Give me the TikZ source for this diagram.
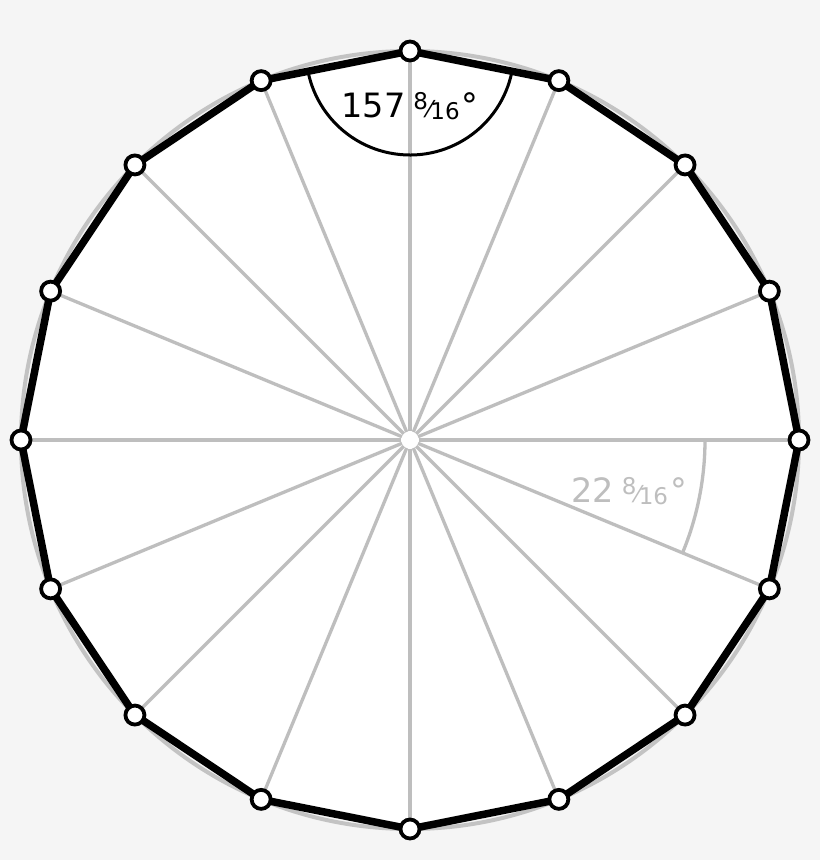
\documentclass[tikz,border=0pt]{standalone}
\usepackage{fontspec}
\setmainfont{DejaVu Sans}
\definecolor{bgc}{RGB}{245,245,245}
\definecolor{spoke}{RGB}{190,190,190}
\definecolor{ringc}{RGB}{195,195,195}
\tikzset{
  spokeline/.style={draw=spoke, line width=3.3pt},
  edgeline/.style={draw=black, line width=7.5pt, line join=round},
  vmark/.style={circle, draw=black, fill=white, line width=3.8pt, minimum size=19pt, inner sep=0pt},
  centre/.style={circle, fill=white, minimum size=17pt, inner sep=0pt},
  anglabel/.style={anchor=base, inner sep=0pt, font=\fontsize{33.5}{33.5}\selectfont},
}
\newcommand{\fracsix}[1]{{\fontsize{23}{23}\selectfont\raisebox{8pt}{#1}\kern-0.5pt⁄\kern-1pt\raisebox{-2pt}{16}}}
\begin{document}
\begin{tikzpicture}[x=1pt,y=1pt]
\useasboundingbox (-410,-420) rectangle (410,440);
\fill[bgc] (-410,-420) rectangle (410,440);
\foreach \k in {0,...,15} {
  \coordinate (v\k) at ({90-22.5*\k}:389);
}
\fill[white] (v0) \foreach \k in {1,...,15} { -- (v\k) } -- cycle;
\draw[ringc, line width=4pt] (0,0) circle[radius=389];
\node[centre] (c) at (0,0) {};
\foreach \k in {0,...,15} {
  \draw[spokeline] (c) -- (v\k);
}
% small angle arc
\draw[spokeline] (c) ++(0:295) arc[start angle=0, end angle=-22.5, radius=295];
\node[anglabel, text=spoke] (t2) at (219,-62) {22\hspace{8pt}\fracsix{8}\kern2pt°};
% interior angle arc
\draw[black, line width=3pt] (v0) ++(-11.25:104) arc[start angle=-11.25, end angle=-168.75, radius=104];
\node[anglabel, text=black] (t1) at (0,322) {157\hspace{8pt}\fracsix{8}\kern2pt°};
\draw[edgeline] (v0) \foreach \k in {1,...,15} { -- (v\k) } -- cycle;
\foreach \k in {0,...,15} {
  \node[vmark] (m\k) at (v\k) {};
}
\end{tikzpicture}
\end{document}
